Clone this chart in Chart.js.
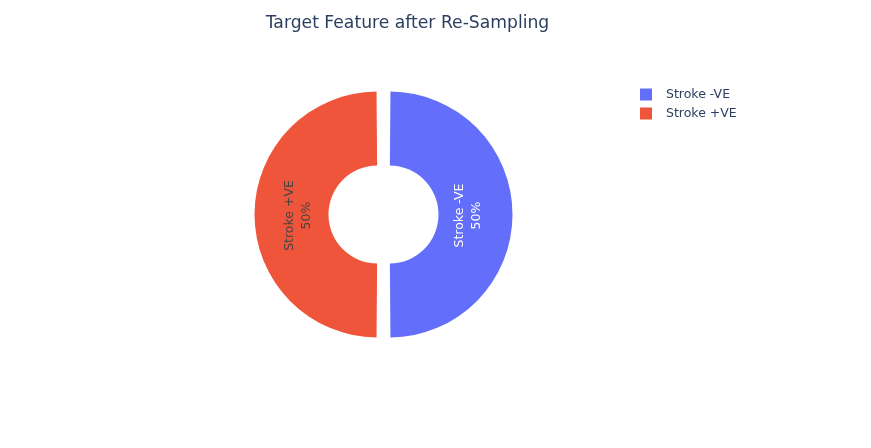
<!DOCTYPE html>
<html>
<head>
<meta charset="utf-8">
<script src="https://cdn.jsdelivr.net/npm/chart.js@4.4.0/dist/chart.umd.min.js"></script>
<style>
  html, body { margin: 0; padding: 0; background: #fff; }
  #wrap { width: 871px; height: 448px; position: relative; }
</style>
</head>
<body>
<div id="wrap"><canvas id="c" width="871" height="448"></canvas></div>
<script>
const categories = ['Stroke -VE', 'Stroke +VE'];
const values = [50, 50];
const percentLabels = ['50%', '50%'];
const sliceColors = ['#636efa', '#EF553B'];
const textColors = ['#ffffff', '#444444'];
const titleText = 'Target Feature after Re-Sampling';
const FONT = '"DejaVu Sans", Verdana, sans-serif';

const sliceTextPlugin = {
  id: 'sliceText',
  afterDatasetsDraw(chart) {
    const ctx = chart.ctx;
    const meta = chart.getDatasetMeta(0);
    meta.data.forEach((arc, i) => {
      const p = arc.getProps(['x', 'y', 'startAngle', 'endAngle', 'innerRadius', 'outerRadius']);
      const mid = (p.startAngle + p.endAngle) / 2;
      const shift = (arc.options.offset || 0) / 4;
      const rIn = p.innerRadius + shift, rOut = p.outerRadius + shift;
      const dist = shift + (rIn + rOut) / 2 - 7;
      const cx = p.x + Math.cos(mid) * dist;
      const cy = p.y + Math.sin(mid) * dist + 1;
      ctx.save();
      ctx.translate(cx, cy);
      ctx.rotate(-Math.PI / 2);
      ctx.fillStyle = textColors[i];
      ctx.font = '12.5px ' + FONT;
      ctx.textAlign = 'center';
      ctx.textBaseline = 'middle';
      ctx.fillText(categories[i], 0, -8.5);
      ctx.fillText(percentLabels[i], 0, 8.5);
      ctx.restore();
    });
  }
};

const titleLegendPlugin = {
  id: 'titleLegend',
  afterDraw(chart) {
    const ctx = chart.ctx;
    ctx.save();
    ctx.fillStyle = '#2a3f5f';
    ctx.font = '17.2px ' + FONT;
    ctx.textAlign = 'center';
    ctx.textBaseline = 'middle';
    ctx.fillText(titleText, 407.5, 24);
    categories.forEach((name, i) => {
      const y = 94.5 + i * 19;
      ctx.fillStyle = sliceColors[i];
      ctx.fillRect(640, y - 6, 12, 12);
      ctx.fillStyle = '#2a3f5f';
      ctx.font = '12.5px ' + FONT;
      ctx.textAlign = 'left';
      ctx.textBaseline = 'middle';
      ctx.fillText(name, 666, y);
    });
    ctx.restore();
  }
};

new Chart(document.getElementById('c'), {
  type: 'doughnut',
  data: {
    labels: categories,
    datasets: [{
      data: values,
      backgroundColor: sliceColors,
      borderWidth: 0,
      offset: 24,
      hoverOffset: 0
    }]
  },
  options: {
    responsive: false,
    animation: false,
    events: [],
    radius: 117,
    cutout: '36.75%',
    layout: { padding: { left: 0, right: 104, top: 0, bottom: 19 } },
    plugins: {
      legend: { display: false },
      title: { display: false },
      tooltip: { enabled: false }
    }
  },
  plugins: [sliceTextPlugin, titleLegendPlugin]
});
</script>
</body>
</html>
